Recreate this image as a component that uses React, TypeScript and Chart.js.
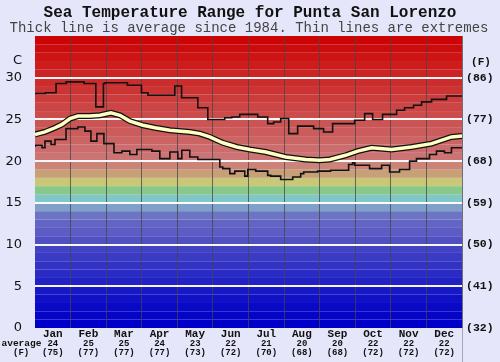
import React, { useEffect, useRef } from 'react';
import { Chart, registerables } from 'chart.js';

Chart.register(...registerables);

// ---- Data ----
const months = ['Jan', 'Feb', 'Mar', 'Apr', 'May', 'Jun', 'Jul', 'Aug', 'Sep', 'Oct', 'Nov', 'Dec'];
const monthAvgC = ['24', '25', '25', '24', '23', '22', '21', '20', '20', '22', '22', '22'];
const monthAvgF = ['(75)', '(77)', '(77)', '(77)', '(73)', '(72)', '(70)', '(68)', '(68)', '(72)', '(72)', '(72)'];

// Maximum (thin line), day of year -> °C (stepped)
const maxDays = [0, 9, 18, 26.7, 42, 52, 58.5, 59.8, 79, 91, 96.5, 119.5, 125.3, 139.2, 147.7, 162.2, 168.2, 175, 190.4, 198.9, 204, 210, 216.9, 224.5, 238.2, 246.7, 254.4, 273.2, 281.8, 288.6, 297.1, 309.1, 315.9, 323.6, 330.4, 339, 351.8, 357.7, 365];
const maxTemps = [28.0, 28.1, 28.2, 29.3, 29.5, 29.3, 26.5, 29.3, 29.4, 29.1, 28.2, 27.9, 29.0, 27.6, 26.4, 25.0, 25.2, 25.3, 25.6, 25.3, 24.5, 24.7, 25.1, 23.3, 24.2, 23.9, 23.5, 24.5, 24.9, 25.7, 25.0, 25.6, 26.1, 26.4, 26.7, 27.1, 27.4, 27.8, 27.8];

// Minimum (thin line), day of year -> °C (stepped)
const minDays = [0, 6, 8.5, 13.7, 17.1, 26.5, 36.7, 42.7, 47.8, 52.9, 58.9, 67.5, 74.3, 81.1, 87.1, 99.9, 106.7, 115.3, 122.1, 125.5, 132.3, 139.2, 158, 160.5, 166.5, 170.8, 179.3, 181.9, 188.7, 198.9, 201.5, 210, 220.3, 227.1, 229.7, 241.6, 252.7, 268.1, 271.5, 273.2, 286, 296.3, 303.1, 311.6, 320.2, 326.1, 337.2, 343.2, 350, 356, 362, 365];
const minTemps = [21.7, 21.9, 21.6, 22.4, 22.0, 22.6, 23.9, 24.1, 23.6, 22.4, 23.3, 22.1, 21.0, 21.2, 20.8, 21.4, 21.2, 20.3, 21.1, 20.3, 21.3, 20.5, 20.2, 19.3, 19.1, 18.5, 18.8, 18.2, 19.0, 18.8, 18.3, 18.2, 17.8, 18.1, 18.5, 18.7, 18.8, 18.9, 19.6, 19.8, 19.5, 19.1, 19.5, 18.7, 19.0, 20.0, 20.3, 20.8, 21.2, 21.0, 21.6, 21.6];

// Average (thick line), day of year -> °C
const avgDays = [0, 8.5, 17.1, 23.1, 29.9, 36.7, 47, 55.5, 64.9, 72.6, 81.1, 92.2, 102.5, 115.3, 132.3, 140.9, 149.4, 160.5, 172.5, 183.6, 197.2, 214.3, 231.4, 243.3, 251.9, 265.5, 275.8, 287.7, 304.8, 321.9, 339, 356, 365];
const avgTemps = [23.2, 23.5, 24.0, 24.4, 25.1, 25.4, 25.4, 25.5, 25.8, 25.5, 24.8, 24.3, 24.0, 23.7, 23.5, 23.3, 22.9, 22.2, 21.7, 21.4, 21.1, 20.5, 20.2, 20.1, 20.2, 20.7, 21.2, 21.6, 21.4, 21.7, 22.1, 22.9, 23.0];

// Background colour band for each 1 °C step from 0 upward
const bandColors = [
  '#0000c8', '#0505c8', '#0a0ac6', '#1010c6', '#1818c6',
  '#2222c4', '#2a2ac4', '#3232c4', '#3a3ac4', '#4242c4',
  '#5050c4', '#5c5cc4', '#6464c4', '#6c74c4', '#80a0c8',
  '#80c8c8', '#88c888', '#c8c878', '#c8a078', '#cc8478',
  '#cc7474', '#cc6c6c', '#cc6464', '#cc5c5c', '#cc5454',
  '#cc4c4c', '#cc4444', '#cc3c3c', '#cc3434', '#cc2c2c',
  '#cc2424', '#cc1c1c', '#cc1414', '#cc0c0c', '#cc0404',
];

const Y_MIN = 0;
const Y_MAX = 35;
const MONO = '"Liberation Mono", "Courier New", monospace';

const bandsPlugin = {
  id: 'bands',
  beforeDraw(chart: any) {
    const { ctx, chartArea, scales } = chart;
    const y = scales.y;
    ctx.save();
    for (let i = 0; i < bandColors.length; i++) {
      const top = y.getPixelForValue(i + 1);
      const bottom = y.getPixelForValue(i);
      ctx.fillStyle = bandColors[i];
      ctx.fillRect(chartArea.left, top, chartArea.right - chartArea.left, bottom - top);
    }
    ctx.restore();
  },
};

const textPlugin = {
  id: 'texts',
  afterDraw(chart: any) {
    const { ctx, chartArea, scales } = chart;
    const x = scales.x;
    ctx.save();
    ctx.textBaseline = 'middle';
    ctx.textAlign = 'center';
    ctx.fillStyle = '#111';
    ctx.font = `bold 16px ${MONO}`;
    ctx.fillText('Sea Temperature Range for Punta San Lorenzo', 250, 13);
    ctx.fillStyle = '#444';
    ctx.font = `14px ${MONO}`;
    ctx.fillText('Thick line is average since 1984. Thin lines are extremes', 249, 28);

    // axis unit labels
    ctx.fillStyle = '#111';
    ctx.textAlign = 'right';
    ctx.font = '13px "DejaVu Sans", sans-serif';
    ctx.fillText('C', 22, 60.5);
    ctx.textAlign = 'center';
    ctx.font = `bold 11px ${MONO}`;
    ctx.fillText('(F)', 481, 62.5);

    // month labels and averages
    for (let i = 0; i < months.length; i++) {
      const cx = x.getPixelForValue(i);
      ctx.font = `bold 11px ${MONO}`;
      ctx.fillText(months[i], cx, 334.5);
      ctx.font = `bold 9px ${MONO}`;
      ctx.fillText(monthAvgC[i], cx, 344);
      ctx.fillText(monthAvgF[i], cx, 352.5);
    }
    ctx.textAlign = 'left';
    ctx.font = `bold 9.5px ${MONO}`;
    ctx.fillText('average', 1.5, 344);
    ctx.font = `bold 9px ${MONO}`;
    ctx.fillText('(F)', 13, 352.5);

    // thin separator below the plot on the right
    ctx.strokeStyle = 'rgba(150,150,170,0.8)';
    ctx.lineWidth = 1;
    ctx.beginPath();
    ctx.moveTo(Math.round(chartArea.right) + 0.5, chartArea.bottom);
    ctx.lineTo(Math.round(chartArea.right) + 0.5, 362);
    ctx.stroke();
    ctx.restore();
  },
};

function toPoints(days: number[], temps: number[]) {
  return days.map((d, i) => ({ x: d, y: temps[i] }));
}

export default function App() {
  const canvasRef = useRef<HTMLCanvasElement | null>(null);

  useEffect(() => {
    const canvas = canvasRef.current;
    if (!canvas) return;
    const chart = new Chart(canvas, {
      type: 'line',
      data: {
        datasets: [
          {
            label: 'average',
            data: toPoints(avgDays, avgTemps),
            borderColor: '#ffffc4',
            borderWidth: 3.5,
            pointRadius: 0,
            tension: 0,
            xAxisID: 'xd',
            yAxisID: 'y',
            order: 0,
          },
          {
            label: 'average outline',
            data: toPoints(avgDays, avgTemps),
            borderColor: '#111',
            borderWidth: 6,
            pointRadius: 0,
            tension: 0,
            xAxisID: 'xd',
            yAxisID: 'y',
            order: 1,
          },
          {
            label: 'max',
            data: toPoints(maxDays, maxTemps),
            borderColor: '#111',
            borderWidth: 1.6,
            pointRadius: 0,
            stepped: 'after',
            xAxisID: 'xd',
            yAxisID: 'y',
            order: 2,
          },
          {
            label: 'min',
            data: toPoints(minDays, minTemps),
            borderColor: '#111',
            borderWidth: 1.6,
            pointRadius: 0,
            stepped: 'after',
            xAxisID: 'xd',
            yAxisID: 'y',
            order: 2,
          },
        ],
      },
      options: {
        animation: false,
        responsive: true,
        maintainAspectRatio: false,
        devicePixelRatio: 1,
        events: [],
        layout: { padding: { top: 36, left: 0, right: 0, bottom: 0 } },
        plugins: {
          legend: { display: false },
          title: { display: false },
          tooltip: { enabled: false },
        },
        scales: {
          x: {
            type: 'category',
            labels: months,
            offset: true,
            position: 'bottom',
            grid: {
              offset: true,
              drawTicks: false,
              lineWidth: 1,
              color: (c: any) =>
                c.index === 0 || c.index === months.length ? 'rgba(0,0,0,0)' : 'rgba(70,70,70,0.75)',
            },
            border: { display: false },
            ticks: { display: false },
            afterFit: (s: any) => {
              s.height = 34;
            },
          },
          xd: {
            type: 'linear',
            min: 0,
            max: 365,
            display: false,
          },
          y: {
            type: 'linear',
            position: 'left',
            min: Y_MIN,
            max: Y_MAX,
            ticks: {
              stepSize: 5,
              padding: 13,
              color: '#111',
              font: { family: '"DejaVu Sans", sans-serif', size: 13 },
              callback: (v: any) => (v >= Y_MAX ? '' : String(v)),
            },
            grid: {
              drawTicks: false,
              lineWidth: 2,
              color: (c: any) =>
                c.tick && (c.tick.value === Y_MIN || c.tick.value === Y_MAX)
                  ? 'rgba(0,0,0,0)'
                  : 'rgba(255,255,255,0.95)',
            },
            border: { display: false },
            afterFit: (s: any) => {
              s.width = 35;
            },
          },
          y2: {
            type: 'linear',
            position: 'right',
            min: Y_MIN,
            max: Y_MAX,
            ticks: {
              stepSize: 5,
              padding: 4,
              color: '#111',
              font: { family: MONO, size: 11.5, weight: 'bold' },
              callback: (v: any) => (v >= Y_MAX ? '' : '(' + Math.round(v * 1.8 + 32) + ')'),
            },
            grid: { display: false, drawTicks: false },
            border: { display: false },
            afterFit: (s: any) => {
              s.width = 38;
            },
          },
        },
      } as any,
      plugins: [bandsPlugin, textPlugin],
    });
    return () => chart.destroy();
  }, []);

  return (
    <div
      style={{
        position: 'fixed',
        left: 0,
        top: 0,
        width: 500,
        height: 362,
        background: '#e6e6fa',
      }}
    >
      <canvas ref={canvasRef} width={500} height={362} />
    </div>
  );
}
